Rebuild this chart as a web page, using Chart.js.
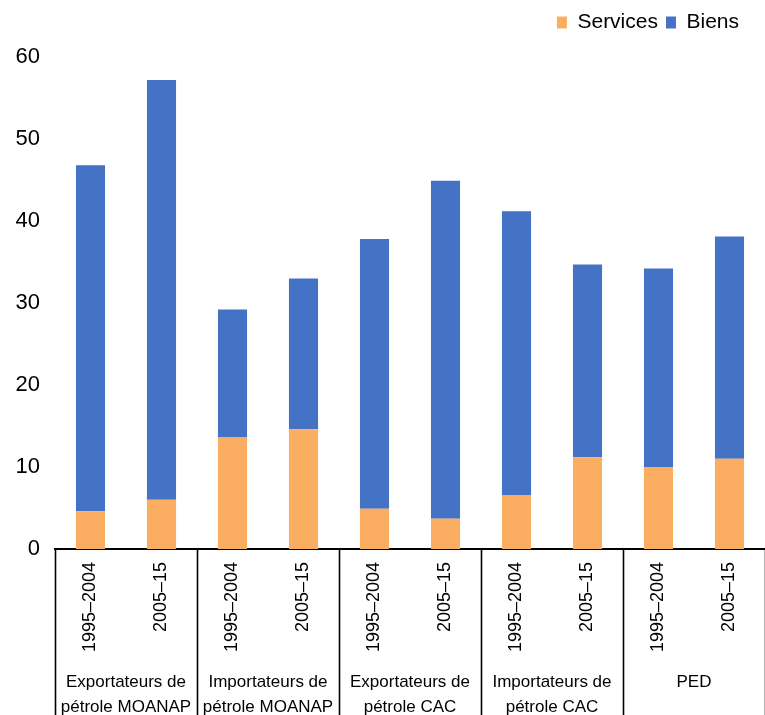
<!DOCTYPE html>
<html>
<head>
<meta charset="utf-8">
<script src="https://cdn.jsdelivr.net/npm/chart.js@4"></script>
<style>
  html, body { margin: 0; padding: 0; background: #fff; }
  #wrap { width: 765px; height: 715px; }
</style>
</head>
<body>
<div id="wrap"><canvas id="chart"></canvas></div>
<script>
const periods = ['1995–2004', '2005–15', '1995–2004', '2005–15', '1995–2004', '2005–15', '1995–2004', '2005–15', '1995–2004', '2005–15'];
const groups = [
  ['Exportateurs de', 'pétrole MOANAP'],
  ['Importateurs de', 'pétrole MOANAP'],
  ['Exportateurs de', 'pétrole CAC'],
  ['Importateurs de', 'pétrole CAC'],
  ['PED']
];
const services = [4.6, 6.0, 13.6, 14.6, 4.9, 3.7, 6.6, 11.2, 10.0, 11.0];
const biens = [42.2, 51.2, 15.6, 18.4, 32.9, 41.2, 34.6, 23.5, 24.2, 27.1];
const yTicks = [0, 10, 20, 30, 40, 50, 60];

Chart.defaults.font.family = "'Liberation Sans', Arial, sans-serif";
Chart.defaults.color = '#000';

// group divider lines below the axis
const dividers = {
  id: 'dividers',
  afterDraw(chart) {
    const xs = chart.scales.x;
    const half = (xs.getPixelForValue(1) - xs.getPixelForValue(0)) / 2;
    const ctx = chart.ctx;
    ctx.save();
    ctx.strokeStyle = '#000';
    ctx.lineWidth = 1.6;
    for (let i = 0; i <= periods.length; i += 2) {
      const px = Math.round(xs.getPixelForValue(i) - half) + 0.5;
      ctx.beginPath();
      ctx.moveTo(px, chart.chartArea.bottom);
      ctx.lineTo(px, chart.height);
      ctx.stroke();
    }
    ctx.restore();
  }
};

// extra room under the legend, and pull it in from the right edge
const legendSpace = {
  id: 'legendSpace',
  afterInit(chart) {
    const lg = chart.legend;
    const fit = lg.fit;
    lg.fit = function () { fit.call(this); this.height += 14; };
  },
  afterLayout(chart) {
    chart.legend.right -= 18;
  }
};

function fixX(height) {
  return function (scale) {
    scale.height = height;
    scale.paddingLeft = 0;
    scale.paddingRight = 0;
  };
}

new Chart(document.getElementById('chart'), {
  type: 'bar',
  data: {
    labels: periods,
    datasets: [
      { label: 'Services', data: services, backgroundColor: '#FBAE62', barPercentage: 0.41, categoryPercentage: 1 },
      { label: 'Biens', data: biens, backgroundColor: '#4472C4', barPercentage: 0.41, categoryPercentage: 1 }
    ]
  },
  options: {
    responsive: true,
    maintainAspectRatio: false,
    animation: false,
    layout: { padding: { left: 15, right: 0, top: 4, bottom: 0 } },
    plugins: {
      tooltip: { enabled: false },
      legend: {
        position: 'top',
        align: 'end',
        labels: { boxWidth: 10, boxHeight: 12, padding: 8, font: { size: 21 } }
      }
    },
    scales: {
      x: {
        stacked: true,
        grid: { display: false, drawTicks: false },
        border: { display: true, color: '#000', width: 2 },
        ticks: { autoSkip: false, minRotation: 90, maxRotation: 90, padding: 13, font: { size: 18 } },
        afterFit: fixX(104)
      },
      x2: {
        type: 'category',
        position: 'bottom',
        labels: groups,
        offset: true,
        grid: { display: false, drawTicks: false },
        border: { display: false },
        ticks: { minRotation: 0, maxRotation: 0, autoSkip: false, padding: 17, font: { size: 17, lineHeight: 1.47 } },
        afterFit: fixX(62)
      },
      y: {
        stacked: true,
        min: 0,
        max: 60,
        grid: { display: false, drawTicks: false },
        border: { display: false },
        afterBuildTicks(scale) { scale.ticks = yTicks.map(v => ({ value: v })); },
        afterFit(scale) { scale.width = 40; },
        ticks: { padding: 15, font: { size: 22 } }
      }
    }
  },
  plugins: [dividers, legendSpace]
});
</script>
</body>
</html>
